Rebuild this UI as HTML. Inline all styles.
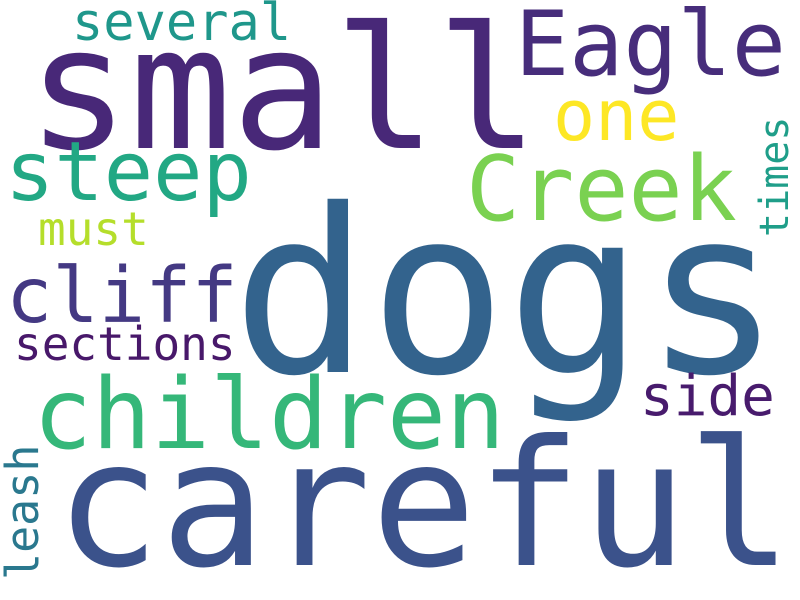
<!DOCTYPE html>
<html><head><meta charset="utf-8"><style>
html,body{margin:0;padding:0;background:#fff;}
svg{display:block;}
text{font-family:"DejaVu Sans Mono","Liberation Mono",monospace;}
</style></head><body>
<svg id="cloud" width="800" height="600" viewBox="0 0 800 600" xmlns="http://www.w3.org/2000/svg">
<rect width="800" height="600" fill="#ffffff"/>
</svg>
<script>
const words = ["dogs","careful","small","Eagle","children","Creek","steep","cliff","sections","several","one","must","side","times","leash"];
const sizes = [228,175,170,90,98,90,82,77,46,52,70,46,56,40,45];
const colors = ["#33638d","#3b528b","#482878","#472d7b","#35b779","#7ad151","#22a884","#443983","#48186a","#1f978b","#fde725","#b5de2b","#481b6d","#1f9e89","#2a788e"];
const xs = [232,55,27,515,33,466,5,6,14,72,553,38,640,788,38];
const ys = [372,565,148,75,448,220,200,322,360,40,140,245,415,237,580];
const rotated = [0,0,0,0,0,0,0,0,0,0,0,0,0,1,1];
const svg = document.getElementById('cloud');
const NS = "http://www.w3.org/2000/svg";
for (let i = 0; i < words.length; i++) {
  const t = document.createElementNS(NS, 'text');
  
  
  t.setAttribute('x', xs[i]);
  t.setAttribute('y', ys[i]);
  t.setAttribute('font-size', sizes[i]);
  t.setAttribute('fill', colors[i]);
  if (rotated[i]) t.setAttribute('transform', 'rotate(-90 ' + xs[i] + ' ' + ys[i] + ')');
  t.textContent = words[i];
  svg.appendChild(t);
}
</script>
</body></html>
